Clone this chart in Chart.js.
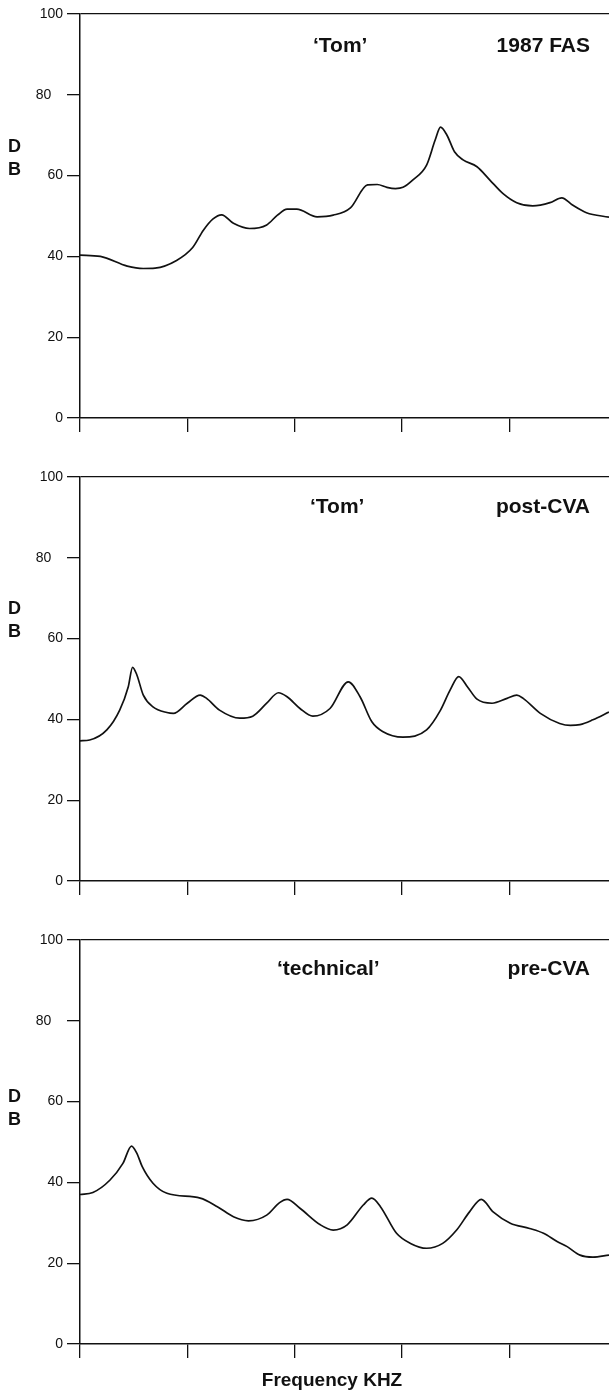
<!DOCTYPE html>
<html>
<head>
<meta charset="utf-8">
<title>Spectra</title>
<script src="https://cdn.jsdelivr.net/npm/chart.js@4.4.1/dist/chart.umd.min.js"></script>
<style>
  body { margin: 0; background: #fff; }
  #wrap { width: 609px; height: 1392px; position: relative; overflow: hidden; }
  canvas { display: block; }
</style>
</head>
<body>
<div id="wrap">
  <canvas id="fas" width="609" height="463"></canvas>
  <canvas id="post" width="609" height="463"></canvas>
  <canvas id="pre" width="609" height="466"></canvas>
</div>
<script>
// frequency axis (kHz) and dB axis
const freqTicks = [0, 1, 2, 3, 4];
const freqMax = 4.93;
const dbTicks = [0, 20, 40, 60, 80, 100];

// 'Tom', 1987 FAS
const fasFreq = [0.00, 0.19, 0.44, 0.59, 0.70, 0.90, 1.05, 1.15, 1.24, 1.32, 1.43, 1.58, 1.74, 1.84, 1.93, 2.02,
  2.21, 2.36, 2.52, 2.68, 2.77, 2.86, 2.94, 3.01, 3.10, 3.23, 3.31, 3.36, 3.42, 3.49, 3.57, 3.70, 3.82,
  3.94, 4.07, 4.22, 4.38, 4.49, 4.59, 4.72, 4.93];
const fasDb = [40.3, 40.0, 37.6, 37.0, 37.1, 39.0, 42.2, 46.5, 49.3, 50.3, 48.2, 46.9, 47.8, 50.2, 51.7, 51.7,
  49.8, 50.2, 52.0, 57.7, 57.8, 57.1, 56.8, 57.1, 58.9, 62.6, 68.8, 72.0, 70.0, 65.9, 63.9, 62.2, 58.9,
  55.6, 53.3, 52.5, 53.3, 54.5, 52.7, 50.8, 49.7];

// 'Tom', post-CVA
const postFreq = [0.00, 0.09, 0.25, 0.37, 0.45, 0.49, 0.53, 0.59, 0.68, 0.81, 0.87, 1.00, 1.12, 1.18, 1.30, 1.49,
  1.61, 1.74, 1.85, 1.93, 2.05, 2.17, 2.33, 2.50, 2.61, 2.72, 2.82, 3.01, 3.23, 3.36, 3.45, 3.53,
  3.61, 3.70, 3.84, 3.98, 4.07, 4.13, 4.29, 4.47, 4.57, 4.66, 4.78, 4.93];
const postDb = [34.7, 34.9, 37.4, 42.3, 48.1, 52.9, 51.0, 46.0, 43.1, 41.7, 41.5, 44.0, 46.0, 45.2, 42.3, 40.3,
  40.8, 44.0, 46.6, 45.6, 42.7, 40.8, 42.7, 49.3, 45.6, 39.4, 37.0, 35.6, 37.4, 42.3, 47.3, 50.6,
  48.1, 45.0, 44.0, 45.2, 46.0, 45.2, 41.5, 39.0, 38.5, 38.7, 39.9, 41.8];

// 'technical', pre-CVA
const preFreq = [0.00, 0.12, 0.28, 0.40, 0.48, 0.53, 0.58, 0.68, 0.81, 1.12, 1.28, 1.43, 1.57, 1.74, 1.86, 1.93,
  2.05, 2.24, 2.36, 2.49, 2.64, 2.72, 2.80, 2.95, 3.08, 3.23, 3.38, 3.51, 3.63, 3.74, 3.85, 4.01,
  4.19, 4.32, 4.45, 4.54, 4.66, 4.78, 4.93];
const preDb = [37.0, 37.5, 40.6, 44.7, 49.0, 47.2, 43.9, 39.8, 37.3, 36.1, 34.0, 31.5, 30.5, 31.9, 35.0, 35.8,
  33.6, 29.5, 28.2, 29.5, 34.4, 36.1, 34.0, 27.4, 24.9, 23.7, 24.9, 28.2, 32.7, 35.8, 32.7, 29.9,
  28.6, 27.4, 25.3, 24.1, 22.0, 21.5, 22.0];

const panelNames = ['\u2018Tom\u2019', '\u2018Tom\u2019', '\u2018technical\u2019'];
const panelTags = ['1987 FAS', 'post-CVA', 'pre-CVA'];
const yTitle = ['D', 'B'];
const xTitle = 'Frequency KHZ';

const INK = '#111';
const FONT = '"Liberation Sans", Arial, Helvetica, sans-serif';

// panel captions, the stacked D/B label and (last panel) the frequency title
const captions = {
  id: 'captions',
  afterDraw(chart, args, opts) {
    const c = chart.ctx;
    const top = chart.chartArea.top;
    c.save();
    c.fillStyle = INK;
    c.textBaseline = 'alphabetic';
    c.font = 'bold 21px ' + FONT;
    c.textAlign = 'left';
    c.fillText(panelNames[opts.index], opts.nameX, top + opts.titleY);
    c.textAlign = 'right';
    c.fillText(panelTags[opts.index], 590, top + opts.titleY);
    c.font = 'bold 18px ' + FONT;
    c.textAlign = 'left';
    c.fillText(yTitle[0], 8, top + opts.dbY);
    c.fillText(yTitle[1], 8, top + opts.dbY + 23);
    if (opts.showX) {
      c.font = 'bold 19px ' + FONT;
      c.textAlign = 'center';
      c.textBaseline = 'middle';
      c.fillText(xTitle, 332, chart.chartArea.bottom + 37);
    }
    c.restore();
  }
};

function makePanel(id, freq, db, cap, xHeight) {
  const points = freq.map((f, i) => ({ x: f, y: db[i] }));
  return new Chart(document.getElementById(id).getContext('2d'), {
    type: 'line',
    data: {
      datasets: [{
        data: points,
        borderColor: INK,
        borderWidth: 1.7,
        pointRadius: 0,
        fill: false,
        cubicInterpolationMode: 'monotone'
      }]
    },
    options: {
      responsive: false,
      animation: false,
      devicePixelRatio: 1,
      layout: { padding: { top: 14, left: 0, right: 0, bottom: 0 } },
      plugins: {
        legend: { display: false },
        tooltip: { enabled: false },
        captions: cap
      },
      scales: {
        x: {
          type: 'linear',
          min: 0,
          max: freqMax,
          afterBuildTicks: s => { s.ticks = freqTicks.map(v => ({ value: v })); },
          afterFit: s => { s.height = xHeight; },
          ticks: { display: false },
          grid: { drawOnChartArea: false, tickLength: 14, color: INK, lineWidth: 1.3 },
          border: { color: INK, width: 1.5 }
        },
        y: {
          min: 0,
          max: 100,
          afterBuildTicks: s => { s.ticks = dbTicks.map(v => ({ value: v })); },
          afterFit: s => { s.width = 80; },
          ticks: {
            color: INK,
            padding: 4,
            font: { family: FONT, size: 14 },
            callback: v => (v === 80 ? '80   ' : String(v))
          },
          grid: {
            color: c => (c.tick && c.tick.value === 100 ? INK : 'rgba(0,0,0,0)'),
            tickColor: INK,
            tickLength: 13,
            lineWidth: 1.3
          },
          border: { color: INK, width: 1.5 }
        }
      }
    },
    plugins: [captions]
  });
}

makePanel('fas', fasFreq, fasDb, { index: 0, nameX: 313, titleY: 38, dbY: 138 }, 45);
makePanel('post', postFreq, postDb, { index: 1, nameX: 310, titleY: 36, dbY: 137 }, 45);
makePanel('pre', preFreq, preDb, { index: 2, nameX: 277, titleY: 35, dbY: 162, showX: true }, 48);
</script>
</body>
</html>
